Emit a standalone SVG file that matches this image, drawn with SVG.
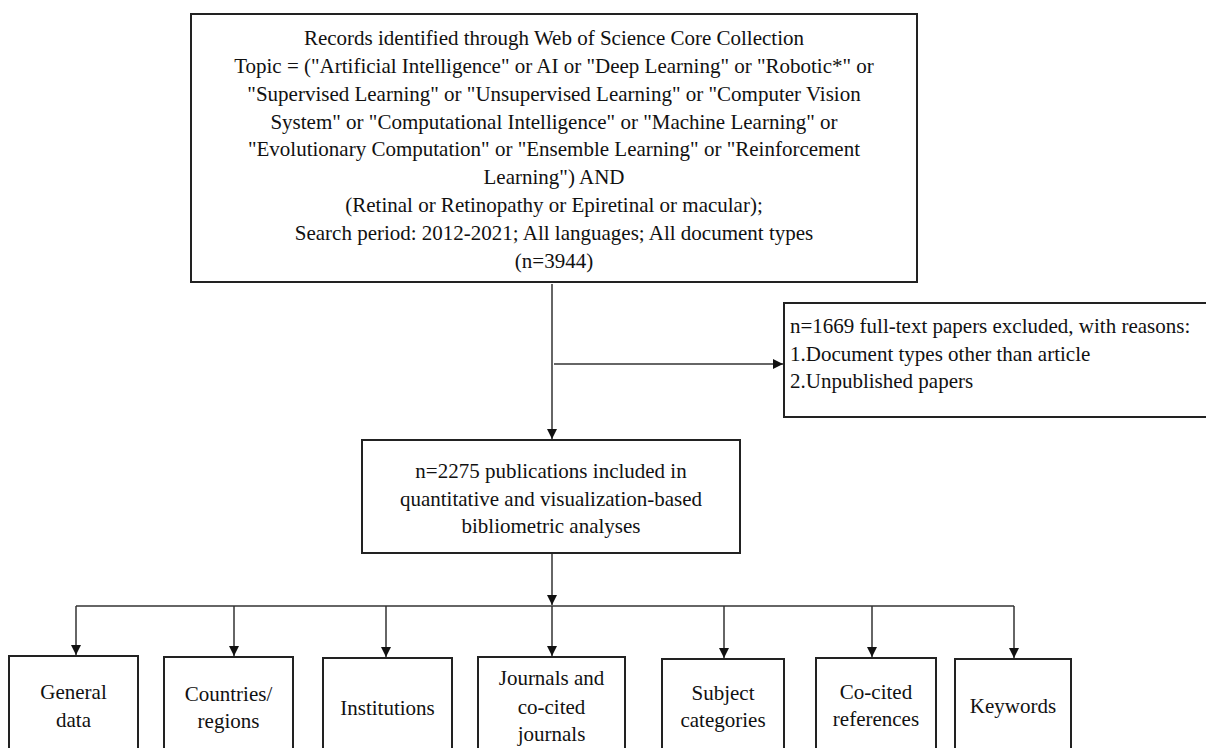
<svg xmlns="http://www.w3.org/2000/svg" width="1206" height="748" viewBox="0 0 1206 748">
<style>
.box{fill:#fff;stroke:#222;stroke-width:2}
.t{font-family:"Liberation Serif","Times New Roman",serif;font-size:21px;fill:#111}
.c{text-anchor:middle}
.ln{stroke:#333;stroke-width:1.5;fill:none}
</style>
<defs>
<marker id="ah" markerWidth="10" markerHeight="10" refX="10" refY="5" orient="auto" markerUnits="userSpaceOnUse">
<path d="M0,0 L10,5 L0,10 Z" fill="#111"/>
</marker>
</defs>
<rect width="1206" height="748" fill="#fff"/>
<g id="connectors">
<path class="ln" d="M552,284 V439" marker-end="url(#ah)"/>
<path class="ln" d="M554,364 H783" marker-end="url(#ah)"/>
<path class="ln" d="M552,554 V605" marker-end="url(#ah)"/>
<path class="ln" d="M76,606 H1014"/>
<path class="ln" d="M76,606 V655" marker-end="url(#ah)"/>
<path class="ln" d="M234,606 V656" marker-end="url(#ah)"/>
<path class="ln" d="M386,606 V657" marker-end="url(#ah)"/>
<path class="ln" d="M552,606 V656" marker-end="url(#ah)"/>
<path class="ln" d="M724,606 V658" marker-end="url(#ah)"/>
<path class="ln" d="M872,606 V657" marker-end="url(#ah)"/>
<path class="ln" d="M1014,606 V658" marker-end="url(#ah)"/>
</g>
<g id="records">
<rect class="box" x="191" y="14" width="726" height="268"/>
<text class="t c" x="554" y="45">Records identified through Web of Science Core Collection</text>
<text class="t c" x="554" y="73">Topic = ("Artificial Intelligence" or AI or "Deep Learning" or "Robotic*" or</text>
<text class="t c" x="554" y="101">"Supervised Learning" or "Unsupervised Learning" or "Computer Vision</text>
<text class="t c" x="554" y="129">System" or "Computational Intelligence" or "Machine Learning" or</text>
<text class="t c" x="554" y="156">"Evolutionary Computation" or "Ensemble Learning" or "Reinforcement</text>
<text class="t c" x="554" y="184">Learning") AND</text>
<text class="t c" x="554" y="212">(Retinal or Retinopathy or Epiretinal or macular);</text>
<text class="t c" x="554" y="240">Search period: 2012-2021; All languages; All document types</text>
<text class="t c" x="554" y="268">(n=3944)</text>
</g>
<g id="excluded">
<rect class="box" x="784" y="303" width="430" height="114"/>
<text class="t" x="790" y="333">n=1669 full-text papers excluded, with reasons:</text>
<text class="t" x="790" y="361">1.Document types other than article</text>
<text class="t" x="790" y="388">2.Unpublished papers</text>
</g>
<g id="included">
<rect class="box" x="362" y="440" width="378" height="113"/>
<text class="t c" x="551" y="478">n=2275 publications included in</text>
<text class="t c" x="551" y="506">quantitative and visualization-based</text>
<text class="t c" x="551" y="533">bibliometric analyses</text>
</g>
<g id="general">
<rect class="box" x="9" y="656" width="129" height="110"/>
<text class="t c" x="73.5" y="699">General</text>
<text class="t c" x="73.5" y="727">data</text>
</g>
<g id="countries">
<rect class="box" x="164" y="657" width="129" height="110"/>
<text class="t c" x="228.5" y="701">Countries/</text>
<text class="t c" x="228.5" y="728">regions</text>
</g>
<g id="institutions">
<rect class="box" x="323" y="658" width="129" height="110"/>
<text class="t c" x="387.5" y="715">Institutions</text>
</g>
<g id="journals">
<rect class="box" x="478" y="657" width="147" height="110"/>
<text class="t c" x="551.5" y="685">Journals and</text>
<text class="t c" x="551.5" y="714">co-cited</text>
<text class="t c" x="551.5" y="741">journals</text>
</g>
<g id="subject">
<rect class="box" x="662" y="659" width="122" height="110"/>
<text class="t c" x="723" y="700">Subject</text>
<text class="t c" x="723" y="727">categories</text>
</g>
<g id="cocited">
<rect class="box" x="816" y="658" width="120" height="110"/>
<text class="t c" x="876" y="699">Co-cited</text>
<text class="t c" x="876" y="726">references</text>
</g>
<g id="keywords">
<rect class="box" x="955" y="659" width="116" height="110"/>
<text class="t c" x="1013" y="713">Keywords</text>
</g>
</svg>
